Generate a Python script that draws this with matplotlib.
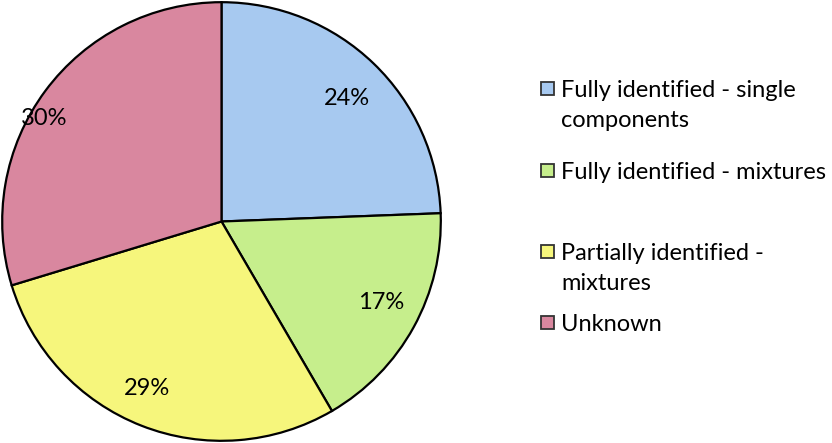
import matplotlib.pyplot as plt
from matplotlib.patches import Rectangle

plt.rcParams['font.family'] = ['Lato', 'DejaVu Sans']

categories = ["Fully identified - single\ncomponents", "Fully identified - mixtures",
              "Partially identified -\nmixtures", "Unknown"]
shares = [24.4, 17.2, 28.7, 29.7]
colors = ["#A7C9F0", "#C6EE8C", "#F6F67C", "#D9879F"]

# label spots (pie units), Excel style placement
label_pos = [(0.57, 0.56), (0.73, -0.37), (-0.34, -0.76), (-0.81, 0.47)]

fig = plt.figure(figsize=(8.32, 4.43), dpi=100)
ax = fig.add_axes([0, 0, 443 / 832, 1])
wedges, _ = ax.pie(shares, colors=colors, startangle=90, counterclock=False,
                   wedgeprops=dict(edgecolor="black", linewidth=1.6))
ax.set_aspect("equal")
ax.set_xlim(-1.01, 1.01)
ax.set_ylim(-1.01, 1.01)

for val, (x, y) in zip(shares, label_pos):
    ax.text(x, y, f"{round(val)}%", ha="center", va="center", fontsize=17)

# legend drawn by hand, rows are unevenly spaced in the original
box_tops = [82, 164, 245, 316]
for label, col, top in zip(categories, colors, box_tops):
    fig.patches.append(Rectangle((541 / 832, 1 - (top + 13) / 443), 13 / 832, 13 / 443,
                                 transform=fig.transFigure, facecolor=col,
                                 edgecolor="#333333", linewidth=1.3))
    for i, line in enumerate(label.split("\n")):
        fig.text(561 / 832, 1 - (top + 15 + 30 * i) / 443, line, fontsize=17,
                 va="baseline", ha="left")

fig.savefig("out.png", dpi=100)
